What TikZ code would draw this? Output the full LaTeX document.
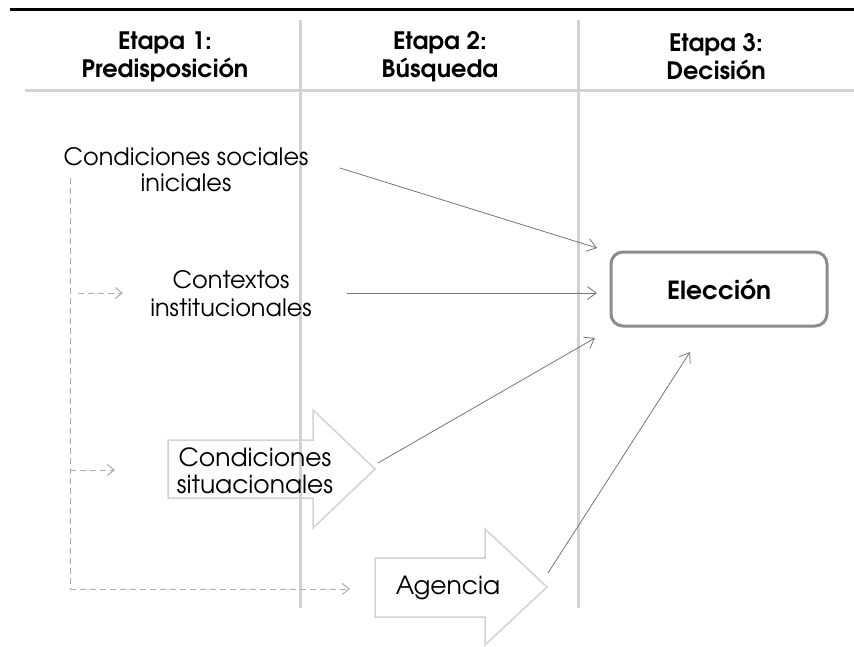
\documentclass[tikz,border=0pt]{standalone}
\usepackage{fontspec}
\setmainfont{TeX Gyre Adventor}
\usetikzlibrary{arrows.meta}
\definecolor{rulegray}{HTML}{D2D2D2}
\definecolor{dashgray}{HTML}{ABABAB}
\definecolor{linkgray}{HTML}{757575}
\definecolor{boxgray}{HTML}{8C8C8C}
\begin{document}
\begin{tikzpicture}[x=1pt,y=-1pt,style=thick]
%\draw[help lines] (0,0) grid (854,646);
\tikzstyle{stage}=[draw=rulegray,line width=3pt]
\tikzstyle{head}=[align=center,font=\bfseries\fontsize{24}{28}\selectfont]
\tikzstyle{factor}=[align=center,font=\fontsize{24}{26}\selectfont]
\tikzstyle{bigarrow}=[draw=rulegray,line width=1.5pt,line join=miter]
\tikzstyle{goal}=[draw=boxgray,line width=3pt,rounded corners=12pt,
  minimum width=216pt,minimum height=74pt,font=\bfseries\fontsize{25}{28}\selectfont]
\tikzstyle{link}=[draw=linkgray,line width=0.8pt,-{Straight Barb[length=9pt,width=13pt]}]
\tikzstyle{feed}=[draw=dashgray,line width=1pt,dash pattern=on 6pt off 4pt]
\useasboundingbox (0,0) rectangle (854,646);

% encabezado
\draw[line width=3pt] (10,9) -- (854,9);
\draw[stage] (25,90) -- (854,90);
\draw[stage] (300,20) -- (300,608);
\draw[stage] (578,20) -- (578,608);
\draw (165,57) node[head] (h1) {Etapa 1:\\Predisposición};
\draw (440,57) node[head] (h2) {Etapa 2:\\Búsqueda};
\draw (716,57) node[head] (h3) {Etapa 3:\\Decisión};

% factores
\draw (186,170) node[factor] (soc) {Condiciones sociales\\iniciales};
\draw (231,294) node[factor,font=\fontsize{24}{28}\selectfont] (ctx) {Contextos\\institucionales};
\draw[bigarrow] (168,440) -- (313,440) -- (313,410) -- (375,469) -- (313,528)
  -- (313,498) -- (168,498) -- cycle;
\draw (255,471) node[factor,font=\fontsize{25}{27}\selectfont] (sit) {Condiciones\\situacionales};
\draw[bigarrow] (375,558) -- (485,558) -- (485,529) -- (547,587) -- (485,645)
  -- (485,617) -- (375,617) -- cycle;
\draw (448,588) node[factor,font=\fontsize{25}{27}\selectfont] (age) {Agencia};
\draw (719,289) node[goal] (elec) {Elección};

% entradas
\coordinate (soc-out) at (340,168);
\coordinate (ctx-out) at (347,293);
\coordinate (sit-out) at (378,463);
\coordinate (age-out) at (548,573);
\coordinate (in1) at (597,248);
\coordinate (in2) at (597,293);
\coordinate (in3) at (595,338);
\coordinate (in4) at (690,352);
\draw[link] (soc-out) -- (in1);
\draw[link] (ctx-out) -- (in2);
\draw[link] (sit-out) -- (in3);
\draw[link] (age-out) -- (in4);

% retroalimentacion
\coordinate (f0) at (70,178);
\coordinate (f1) at (70,589);
\coordinate (fc) at (78,293);
\coordinate (fs) at (70,470);
\draw[feed] (f0) -- (f1);
\draw[feed,-{Straight Barb[length=7pt,width=11pt]}] (f1) -- (350,589);
\draw[feed,-{Straight Barb[length=7pt,width=11pt]}] (fc) -- (123,293);
\draw[feed,-{Straight Barb[length=7pt,width=11pt]}] (fs) -- (115,470);
\end{tikzpicture}
\end{document}
